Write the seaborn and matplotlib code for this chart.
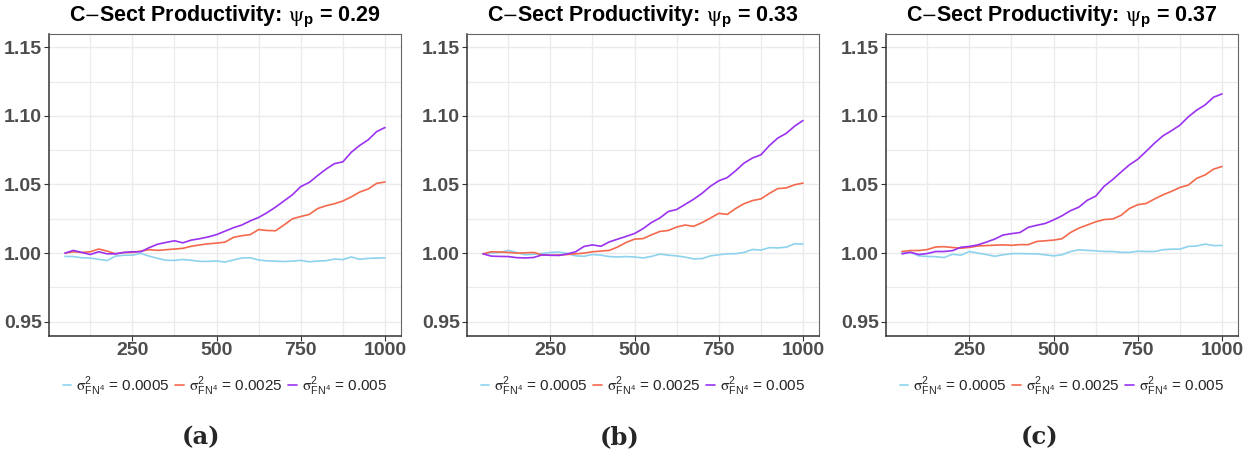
import matplotlib
matplotlib.use("Agg")
import matplotlib.pyplot as plt
import numpy as np
import pandas as pd
import seaborn as sns
from matplotlib.ticker import FixedLocator

# ---- data -------------------------------------------------------------
steps = list(range(50, 1001, 25))
psi_values = ["0.29", "0.33", "0.37"]
sigma_levels = ["0.0005", "0.0025", "0.005"]
panel_tags = ["(a)", "(b)", "(c)"]

# psi_p = 0.29
a_s0005 = [0.9976, 0.9975, 0.9966, 0.9964, 0.9955, 0.9946, 0.9978, 0.9985, 0.9985, 0.9998,
           0.9978, 0.9962, 0.9948, 0.9947, 0.9954, 0.9948, 0.9940, 0.9940, 0.9943, 0.9935,
           0.9950, 0.9965, 0.9966, 0.9950, 0.9944, 0.9941, 0.9939, 0.9942, 0.9947, 0.9937,
           0.9942, 0.9945, 0.9957, 0.9953, 0.9972, 0.9955, 0.9962, 0.9964, 0.9966]
a_s0025 = [1.0000, 1.0010, 1.0005, 1.0010, 1.0030, 1.0015, 0.9995, 1.0005, 1.0005, 1.0015,
           1.0025, 1.0020, 1.0025, 1.0030, 1.0035, 1.0050, 1.0060, 1.0068, 1.0073, 1.0080,
           1.0115, 1.0127, 1.0135, 1.0172, 1.0165, 1.0163, 1.0205, 1.0250, 1.0267, 1.0282,
           1.0325, 1.0345, 1.0360, 1.0380, 1.0410, 1.0445, 1.0467, 1.0508, 1.0518]
a_s005 = [1.0000, 1.0020, 1.0005, 0.9990, 1.0010, 0.9995, 0.9995, 1.0005, 1.0010, 1.0010,
          1.0040, 1.0065, 1.0078, 1.0090, 1.0075, 1.0095, 1.0105, 1.0118, 1.0135, 1.0160,
          1.0185, 1.0205, 1.0235, 1.0260, 1.0295, 1.0335, 1.0380, 1.0425, 1.0485, 1.0515,
          1.0565, 1.0612, 1.0652, 1.0665, 1.0735, 1.0785, 1.0825, 1.0885, 1.0915]

# psi_p = 0.33
b_s0005 = [0.9995, 1.0000, 1.0004, 1.0020, 1.0005, 0.9988, 0.9992, 0.9997, 1.0005, 1.0008,
           0.9998, 0.9980, 0.9977, 0.9990, 0.9985, 0.9975, 0.9972, 0.9975, 0.9972, 0.9965,
           0.9976, 0.9993, 0.9985, 0.9980, 0.9971, 0.9958, 0.9960, 0.9980, 0.9988, 0.9995,
           0.9996, 1.0005, 1.0027, 1.0022, 1.0040, 1.0038, 1.0043, 1.0068, 1.0066]
b_s0025 = [0.9995, 1.0010, 1.0008, 1.0005, 1.0000, 1.0002, 1.0005, 0.9988, 0.9984, 0.9986,
           0.9990, 0.9995, 1.0000, 1.0010, 1.0015, 1.0020, 1.0045, 1.0078, 1.0102, 1.0106,
           1.0133, 1.0158, 1.0165, 1.0190, 1.0205, 1.0195, 1.0222, 1.0255, 1.0290, 1.0282,
           1.0325, 1.0360, 1.0383, 1.0395, 1.0435, 1.0470, 1.0475, 1.0498, 1.0510]
b_s005 = [0.9995, 0.9978, 0.9976, 0.9975, 0.9967, 0.9965, 0.9968, 0.9987, 0.9985, 0.9983,
          0.9994, 1.0010, 1.0049, 1.0060, 1.0050, 1.0082, 1.0102, 1.0122, 1.0143, 1.0178,
          1.0223, 1.0256, 1.0303, 1.0318, 1.0355, 1.0392, 1.0435, 1.0487, 1.0527, 1.0550,
          1.0600, 1.0656, 1.0693, 1.0716, 1.0783, 1.0838, 1.0872, 1.0925, 1.0966]

# psi_p = 0.37
c_s0005 = [1.0000, 1.0006, 0.9980, 0.9976, 0.9974, 0.9968, 0.9992, 0.9985, 1.0012, 1.0000,
           0.9990, 0.9977, 0.9988, 0.9996, 0.9997, 0.9995, 0.9995, 0.9988, 0.9980, 0.9988,
           1.0012, 1.0024, 1.0020, 1.0017, 1.0012, 1.0012, 1.0006, 1.0005, 1.0014, 1.0012,
           1.0012, 1.0025, 1.0029, 1.0029, 1.0049, 1.0052, 1.0066, 1.0055, 1.0056]
c_s0025 = [1.0012, 1.0019, 1.0019, 1.0026, 1.0045, 1.0047, 1.0041, 1.0036, 1.0042, 1.0052,
           1.0055, 1.0058, 1.0060, 1.0057, 1.0062, 1.0062, 1.0085, 1.0090, 1.0095, 1.0105,
           1.0150, 1.0182, 1.0205, 1.0228, 1.0245, 1.0248, 1.0275, 1.0325, 1.0353, 1.0362,
           1.0395, 1.0425, 1.0450, 1.0478, 1.0496, 1.0545, 1.0570, 1.0612, 1.0631]
c_s005 = [0.9995, 1.0006, 0.9990, 0.9997, 1.0012, 1.0012, 1.0018, 1.0043, 1.0049, 1.0060,
          1.0080, 1.0102, 1.0132, 1.0142, 1.0150, 1.0188, 1.0203, 1.0216, 1.0242, 1.0272,
          1.0309, 1.0335, 1.0385, 1.0415, 1.0487, 1.0535, 1.0590, 1.0643, 1.0684, 1.0742,
          1.0802, 1.0855, 1.0892, 1.0932, 1.0993, 1.1042, 1.1080, 1.1136, 1.1160]

panels = [
    [a_s0005, a_s0025, a_s005],
    [b_s0005, b_s0025, b_s005],
    [c_s0005, c_s0025, c_s005],
]

x_ticks = [250, 500, 750, 1000]
x_minor = [125, 375, 625, 875]
y_ticks = [0.95, 1.00, 1.05, 1.10, 1.15]
y_minor = [0.975, 1.025, 1.075, 1.125]

# ---- style ------------------------------------------------------------
sns.set_theme(style="white")
plt.rcParams["font.family"] = ["Liberation Sans", "DejaVu Sans"]
plt.rcParams["mathtext.fontset"] = "custom"
plt.rcParams["mathtext.rm"] = "STIXGeneral"
plt.rcParams["mathtext.sf"] = "Liberation Sans"
plt.rcParams["mathtext.bf"] = "Liberation Sans:bold"
plt.rcParams["mathtext.it"] = "STIXGeneral:italic"

colors = ["#8DD3EE", "#F4694C", "#9A32F0"]
labels = [r"$\mathrm{\sigma}^{\mathsf{2}}_{\mathsf{FN}^{\mathsf{4}}}$ = " + s for s in sigma_levels]

fig = plt.figure(figsize=(12.55, 4.58), dpi=100)
W, H = 1255, 458
lefts = [49, 467, 886]
ax_w = 352
ax_top, ax_bot = 33.5, 335.5
tag_x = [201, 620, 1040]

for i, series in enumerate(panels):
    ax = fig.add_axes([lefts[i] / W, 1 - ax_bot / H, ax_w / W, (ax_bot - ax_top) / H])
    df = pd.DataFrame({
        "step": steps * 3,
        "value": series[0] + series[1] + series[2],
        "sigma": sum([[lab] * len(steps) for lab in labels], []),
    })
    sns.lineplot(data=df, x="step", y="value", hue="sigma", hue_order=labels,
                 palette=colors, linewidth=1.2, ax=ax, legend=False)

    ax.set_xlim(2.5, 1047.5)
    ax.set_ylim(0.94, 1.16)
    ax.xaxis.set_major_locator(FixedLocator(x_ticks))
    ax.xaxis.set_minor_locator(FixedLocator(x_minor))
    ax.yaxis.set_major_locator(FixedLocator(y_ticks))
    ax.yaxis.set_minor_locator(FixedLocator(y_minor))
    ax.set_yticklabels([f"{v:.2f}" for v in y_ticks])
    ax.set_xticklabels([str(v) for v in x_ticks])
    ax.grid(which="major", color="#EBEBEB", linewidth=1.0)
    ax.grid(which="minor", color="#EBEBEB", linewidth=0.9)
    ax.set_axisbelow(True)
    ax.tick_params(which="major", direction="out", length=3.5, width=0.8, color="#333333",
                   labelsize=14, labelcolor="#4D4D4D", pad=1.5, left=True, bottom=True)
    ax.tick_params(which="minor", length=0)
    for lab in ax.get_xticklabels() + ax.get_yticklabels():
        lab.set_fontweight("bold")
    for side in ["left", "bottom"]:
        ax.spines[side].set_color("#333333")
        ax.spines[side].set_linewidth(1.1)
    for side in ["top", "right"]:
        ax.spines[side].set_color("#666666")
        ax.spines[side].set_linewidth(0.8)
    ax.set_xlabel("")
    ax.set_ylabel("")
    ax.set_title(r"C$-$Sect Productivity: $\mathrm{\psi}_{\mathbf{p}}$ = " + psi_values[i],
                 fontsize=15.5, fontweight="bold", color="black", pad=9)

    handles = ax.get_lines()[:3]
    cx = (lefts[i] + ax_w / 2) / W
    fig.legend(handles, labels, loc="center", bbox_to_anchor=(cx, 1 - 386 / H), ncol=3,
               frameon=False, handlelength=0.55, handletextpad=0.35, columnspacing=0.35,
               prop={"family": "Liberation Sans", "size": 11})

    fig.text(tag_x[i] / W, 1 - 437 / H, panel_tags[i], ha="center", va="center",
             fontsize=17.5, fontweight="bold", family="DejaVu Serif")

fig.savefig("out.png", dpi=100)
